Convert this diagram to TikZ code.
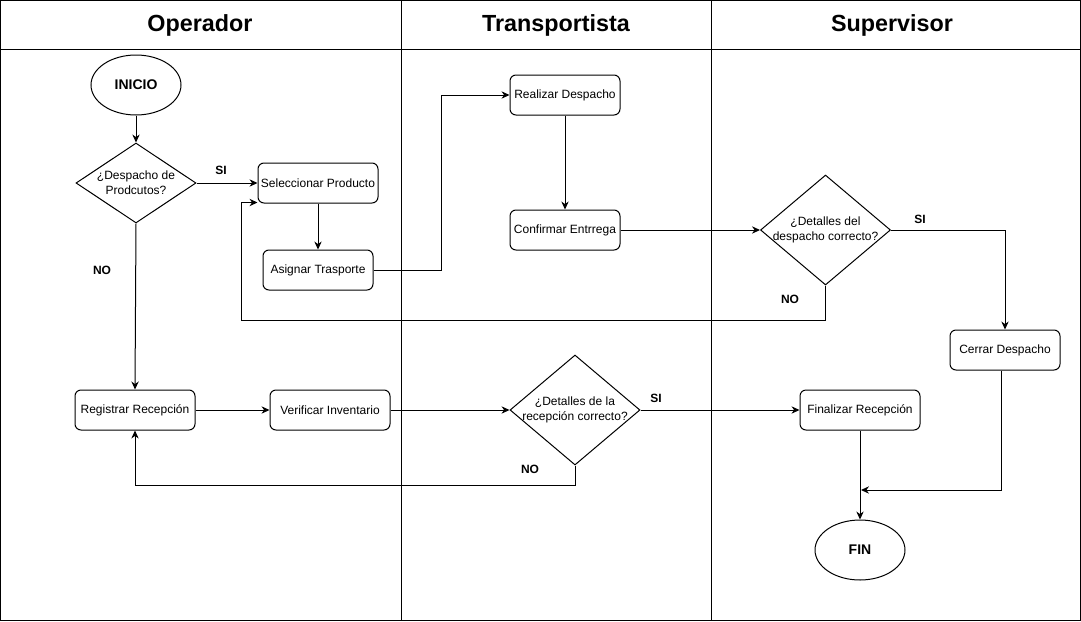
\documentclass[tikz,border=0pt]{standalone}
\usepackage{fontspec}
\setmainfont{Liberation Sans}
\usetikzlibrary{shapes.geometric,arrows.meta}
\begin{document}
\begin{tikzpicture}[x=0.75pt,y=-0.75pt, line width=0.75pt,
 proc/.style={draw, rounded corners=4.5pt, minimum width=90pt, minimum height=30pt, inner sep=0pt, font=\fontsize{9}{11}\selectfont},
 term/.style={draw, ellipse, minimum width=67.5pt, minimum height=45pt, inner sep=0pt, font=\fontsize{10.5}{12}\selectfont\bfseries},
 dec/.style={draw, diamond, inner sep=0pt},
 dectext/.style={align=center, font=\fontsize{9}{11}\selectfont, inner sep=0pt},
 lbl/.style={font=\fontsize{9}{11}\selectfont\bfseries, inner sep=0pt},
 lanetitle/.style={font=\fontsize{17.5}{20}\selectfont\bfseries, inner sep=0pt},
 arr/.style={-{Stealth[length=6pt,width=5.5pt]}}]
\useasboundingbox (0,0) rectangle (1081,621);
% pool
\draw (0.5,0.5) rectangle (1080.5,620.5);
\draw (0.5,49.5) -- (1080.5,49.5);
\draw (401,0.5) -- (401,620.5);
\draw (711,0.5) -- (711,620.5);
\node[lanetitle] (t1) at (200,25) {Operador};
\node[lanetitle] (t2) at (556,25) {Transportista};
\node[lanetitle] (t3) at (892,25) {Supervisor};
% nodes
\node[term] (ini) at (136,85) {INICIO};
\node[dec, minimum width=90pt, minimum height=60pt] (d1) at (136,183) {};
\node[dectext] (d1t) at (136,183) {¿Despacho de\\Prodcutos?};
\node[proc] (sel) at (318,183) {Seleccionar Producto};
\node[proc, minimum width=82.5pt] (asg) at (318,270) {Asignar Trasporte};
\node[proc, minimum width=82.5pt] (real) at (565,95) {Realizar Despacho};
\node[proc, minimum width=82.5pt] (conf) at (565,230) {Confirmar Entrrega};
\node[dec, minimum width=97.5pt, minimum height=82.5pt] (d2) at (825.5,230) {};
\node[dectext] (d2t) at (825.5,230) {¿Detalles del\\despacho correcto?};
\node[proc, minimum width=82.5pt] (cer) at (1005,350) {Cerrar Despacho};
\node[proc] (reg) at (135,410) {Registrar Recepción};
\node[proc] (ver) at (330,410) {Verificar Inventario};
\node[dec, minimum width=97.5pt, minimum height=82.5pt] (d3) at (575,410) {};
\node[dectext] (d3t) at (575,410) {¿Detalles de la\\recepción correcto?};
\node[proc] (fin) at (860,410) {Finalizar Recepción};
\node[term] (end) at (860,550) {FIN};
% helper coordinates
\coordinate (c4) at (441,270);
\coordinate (nob) at (241,320);
\coordinate (merge) at (861,490);
% connectors
\draw[arr] (ini) -- (d1);
\draw[arr] (d1.east) -- (sel.west);
\node[lbl] (si1) at (221,170) {SI};
\draw[arr] (sel) -- (asg);
\draw[arr] (asg.east) -- (c4) |- (real.west);
\draw[arr] (real) -- (conf);
\draw[arr] (conf.east) -- (d2.west);
\draw[arr] (d2.east) -| (cer.north);
\node[lbl] (si2) at (920,219) {SI};
\draw[arr] (d2.south) |- (nob) |- ([yshift=0.75pt]sel.south west);
\node[lbl] (no2) at (790,299) {NO};
\draw[arr] (d1.south) -- (reg.north);
\node[lbl] (no1) at (102,270) {NO};
\draw[arr] (reg.east) -- (ver.west);
\draw[arr] (ver.east) -- (d3.west);
\draw[arr] (d3.east) -- (fin.west);
\node[lbl] (si3) at (656,398) {SI};
\draw[arr] (d3.south) -- ++(0,20) -| (reg.south);
\node[lbl] (no3) at (530,469) {NO};
\draw[arr] (fin) -- (end);
\draw[arr] ([xshift=-3pt]cer.south) |- (merge);
\end{tikzpicture}
\end{document}
